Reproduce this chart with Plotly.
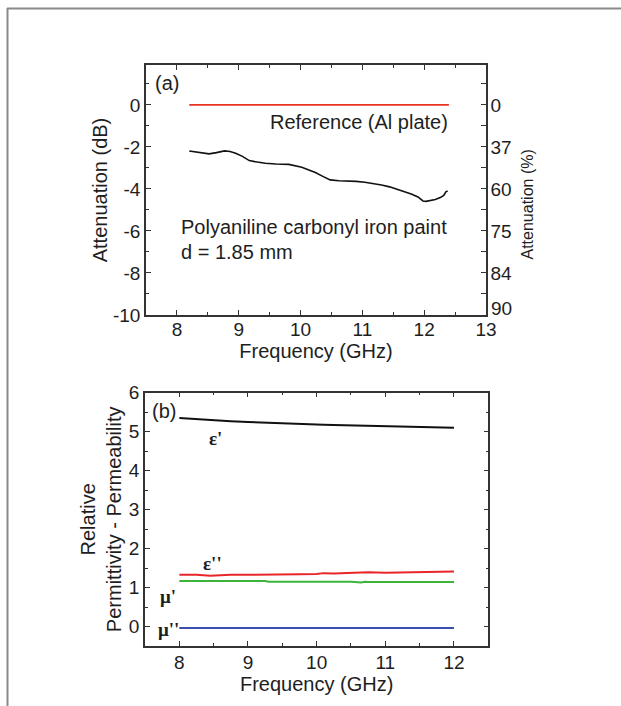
import plotly.graph_objects as go

# ---------------- data ----------------
# Panel (a): attenuation
ref_freq = [8.2, 12.4]
ref_att = [0.0, 0.0]

pani_freq = [8.20, 8.30, 8.42, 8.52, 8.64, 8.77, 8.86, 8.95, 9.06, 9.17, 9.30, 9.43,
             9.60, 9.81, 10.02, 10.13, 10.24, 10.36, 10.48, 10.62, 10.77, 10.90,
             11.04, 11.18, 11.31, 11.44, 11.57, 11.68, 11.79, 11.90, 11.98, 12.03,
             12.08, 12.18, 12.27, 12.32, 12.35, 12.38]
pani_att = [-2.19, -2.24, -2.30, -2.33, -2.27, -2.19, -2.22, -2.30, -2.45, -2.65, -2.72, -2.78,
            -2.81, -2.83, -2.97, -3.08, -3.22, -3.40, -3.57, -3.61, -3.62, -3.64,
            -3.68, -3.73, -3.81, -3.90, -4.02, -4.12, -4.24, -4.38, -4.57, -4.59,
            -4.56, -4.50, -4.40, -4.30, -4.14, -4.10]

left_tickvals = [0, -2, -4, -6, -8, -10]
left_ticktext = ["0", "-2", "-4", "-6", "-8", "-10"]
right_ticktext = ["0", "37", "60", "75", "84", "90"]

# Panel (b): relative permittivity / permeability
b_freq = [8.0, 8.25, 8.45, 8.55, 8.75, 9.0, 9.25, 9.3, 9.5, 9.75, 10.0, 10.1, 10.25,
          10.5, 10.65, 10.7, 10.75, 11.0, 11.25, 11.5, 11.75, 12.0]
eps_real = [5.35, 5.32, 5.29, 5.28, 5.27, 5.25, 5.23, 5.23, 5.21, 5.20, 5.18, 5.18, 5.17,
            5.16, 5.15, 5.15, 5.15, 5.14, 5.13, 5.12, 5.11, 5.10]
eps_imag = [1.33, 1.33, 1.30, 1.31, 1.33, 1.33, 1.33, 1.33, 1.33, 1.34, 1.35, 1.37, 1.36,
            1.37, 1.38, 1.38, 1.39, 1.38, 1.39, 1.40, 1.41, 1.41]
mu_real = [1.17, 1.17, 1.17, 1.17, 1.17, 1.17, 1.17, 1.15, 1.15, 1.15, 1.15, 1.15, 1.15,
           1.15, 1.13, 1.15, 1.14, 1.14, 1.14, 1.14, 1.14, 1.14]
mu_imag = [-0.04, -0.04, -0.03, -0.04, -0.04, -0.04, -0.03, -0.03, -0.04, -0.03, -0.04, -0.04, -0.03,
           -0.04, -0.04, -0.04, -0.04, -0.04, -0.04, -0.04, -0.04, -0.04]

# ---------------- figure ----------------
W, H = 621, 706
FONT = "Liberation Sans, Arial, sans-serif"
TXT = "#1e1e1e"
AX = "#333333"
TICK_SIZE = 19
TITLE_SIZE = 20

fig = go.Figure()

fig.add_trace(go.Scatter(x=ref_freq, y=ref_att, mode="lines",
                         line=dict(color="#e8321e", width=1.6), xaxis="x", yaxis="y",
                         showlegend=False))
fig.add_trace(go.Scatter(x=pani_freq, y=pani_att, mode="lines",
                         line=dict(color="#111111", width=1.6), xaxis="x", yaxis="y",
                         showlegend=False))
# invisible trace so the right-hand % axis is drawn
fig.add_trace(go.Scatter(x=ref_freq, y=ref_att, mode="lines", line=dict(width=0),
                         opacity=0, xaxis="x", yaxis="y2", showlegend=False,
                         hoverinfo="skip"))

fig.add_trace(go.Scatter(x=b_freq, y=eps_real, mode="lines",
                         line=dict(color="#111111", width=2), xaxis="x3", yaxis="y3",
                         showlegend=False))
fig.add_trace(go.Scatter(x=b_freq, y=eps_imag, mode="lines",
                         line=dict(color="#e8262a", width=2), xaxis="x3", yaxis="y3",
                         showlegend=False))
fig.add_trace(go.Scatter(x=b_freq, y=mu_real, mode="lines",
                         line=dict(color="#3cb43c", width=2), xaxis="x3", yaxis="y3",
                         showlegend=False))
fig.add_trace(go.Scatter(x=b_freq, y=mu_imag, mode="lines",
                         line=dict(color="#3a4fb0", width=2), xaxis="x3", yaxis="y3",
                         showlegend=False))

axis_common = dict(showline=True, linecolor=AX, linewidth=1.5, ticks="inside",
                   ticklen=5, tickwidth=1.2, tickcolor=AX, showgrid=False,
                   zeroline=False, automargin=False,
                   tickfont=dict(family=FONT, size=TICK_SIZE, color=TXT))
title_font = dict(family=FONT, size=TITLE_SIZE, color=TXT)

fig.update_layout(
    width=W, height=H,
    margin=dict(l=0, r=0, t=0, b=0),
    paper_bgcolor="white", plot_bgcolor="white",
    font=dict(family=FONT, color=TXT),
    xaxis=dict(axis_common, domain=[146 / W, 486 / W], range=[7.5, 13], dtick=1,
               tick0=8, mirror="ticks", anchor="y", ticklabelstandoff=-4,
               minor=dict(ticks="inside", dtick=0.5, tick0=7.5, ticklen=3, tickcolor=AX),
               title=dict(text="Frequency (GHz)", font=title_font, standoff=2)),
    yaxis=dict(axis_common, domain=[1 - 315 / H, 1 - 65 / H], range=[-10, 1.9],
               tickmode="array", tickvals=left_tickvals, ticktext=left_ticktext,
               anchor="x",
               minor=dict(ticks="inside", tickvals=[1, -1, -3, -5, -7, -9], ticklen=3,
                          tickcolor=AX),
               title=dict(text="Attenuation (dB)", font=title_font, standoff=0)),
    yaxis2=dict(axis_common, overlaying="y", side="right", anchor="x",
                range=[-10, 1.9], tickmode="array", tickvals=left_tickvals[:-1],
                ticktext=right_ticktext[:-1], ticklabelstandoff=-1,
                minor=dict(ticks="inside", tickvals=[1, -1, -3, -5, -7, -9, -10], ticklen=5,
                           tickcolor=AX)),
    xaxis3=dict(axis_common, domain=[145 / W, 488.3 / W], range=[7.5, 12.5], dtick=1,
                tick0=8, mirror="ticks", anchor="y3", ticklabelstandoff=-2,
                minor=dict(ticks="inside", dtick=0.5, tick0=7.5, ticklen=3, tickcolor=AX),
                title=dict(text="Frequency (GHz)", font=title_font, standoff=0)),
    yaxis3=dict(axis_common, domain=[1 - 646 / H, 1 - 392.7 / H], range=[-0.5, 6], dtick=1,
                tick0=0, mirror="ticks", anchor="x3",
                minor=dict(ticks="inside", dtick=0.5, tick0=0.5, ticklen=3, tickcolor=AX),
                title=dict(text="Relative<br>Permittivity - Permeability",
                           font=title_font, standoff=2)),
)

# bottom label of the % axis sits slightly above its tick in the original
fig.add_annotation(text=right_ticktext[-1], xref="paper", yref="y", x=489 / W,
                   y=left_tickvals[-1], xanchor="left", yanchor="middle", yshift=7,
                   showarrow=False, font=dict(family=FONT, size=TICK_SIZE, color=TXT))

# right-hand axis title (placed explicitly; axis title would collide with tick labels)
fig.add_annotation(text="Attenuation (%)", xref="paper", yref="paper",
                   x=526.5 / W, y=1 - 205 / H, textangle=-90, showarrow=False,
                   xanchor="center", yanchor="middle",
                   font=dict(family=FONT, size=16, color=TXT))

# annotations (panel labels and in-plot texts)
ann_font = dict(family=FONT, size=TITLE_SIZE, color=TXT)
sym_font = dict(family="Liberation Serif, Times New Roman, serif", size=19, color=TXT)
fig.add_annotation(text="(a)", x=7.615, y=1.05, xref="x", yref="y", xanchor="left",
                   yanchor="middle", showarrow=False, font=ann_font)
fig.add_annotation(text="Reference (Al plate)", x=12.42, y=-0.82, xref="x", yref="y",
                   xanchor="right", yanchor="middle", showarrow=False, font=ann_font)
fig.add_annotation(text="Polyaniline carbonyl iron paint", x=8.03, y=-5.8, xref="x",
                   yref="y", xanchor="left", yanchor="middle", showarrow=False, font=ann_font)
fig.add_annotation(text="d = 1.85 mm", x=8.03, y=-7.0, xref="x", yref="y",
                   xanchor="left", yanchor="middle", showarrow=False, font=ann_font)

fig.add_annotation(text="(b)", x=7.58, y=5.54, xref="x3", yref="y3", xanchor="left",
                   yanchor="middle", showarrow=False, font=ann_font)
fig.add_annotation(text="<b>ε'</b>", x=8.52, y=4.83, xref="x3", yref="y3",
                   showarrow=False, font=sym_font)
fig.add_annotation(text="<b>ε''</b>", x=8.49, y=1.61, xref="x3", yref="y3",
                   showarrow=False, font=sym_font)
fig.add_annotation(text="<b>μ'</b>", x=7.84, y=0.77, xref="x3", yref="y3",
                   showarrow=False, font=sym_font)
fig.add_annotation(text="<b>μ''</b>", x=7.84, y=-0.07, xref="x3", yref="y3",
                   showarrow=False, font=sym_font)

# outer frame lines (top and left edges of the figure box)
fig.add_shape(type="line", xref="paper", yref="paper", x0=7 / W, x1=1, y0=1 - 8.5 / H,
              y1=1 - 8.5 / H, line=dict(color="#8a8a8a", width=2))
fig.add_shape(type="line", xref="paper", yref="paper", x0=7.5 / W, x1=7.5 / W, y0=0,
              y1=1 - 8 / H, line=dict(color="#8a8a8a", width=2))

fig.write_html("out.html", config={"displayModeBar": False},
               post_script="document.body.style.margin='0';")
